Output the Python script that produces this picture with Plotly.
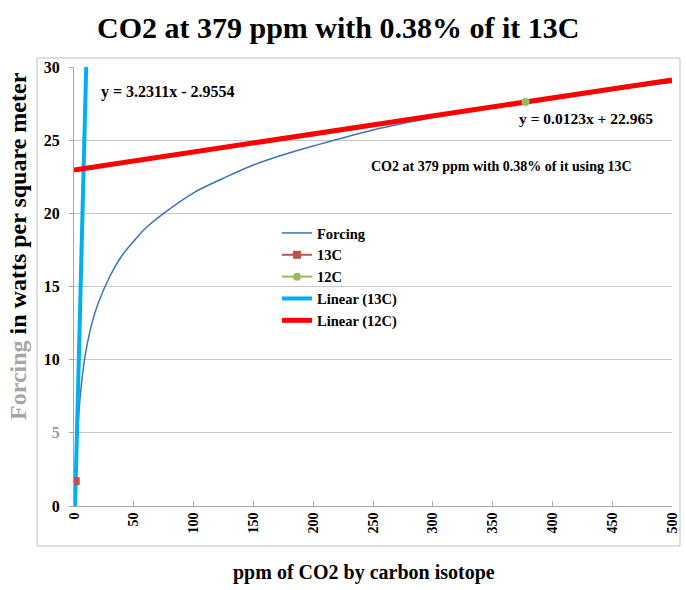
import plotly.graph_objects as go

# ---------------- data ----------------
forcing_ppm = [1, 2, 3, 4, 5, 7, 10, 15, 20, 30, 40, 50, 60, 75, 100, 125, 150, 175, 200, 250, 300, 350, 400, 450, 500]
forcing_wm2 = [0.0, 3.0, 4.9, 6.3, 7.3, 8.9, 10.6, 12.5, 13.8, 15.7, 17.1, 18.1, 19.0, 20.0, 21.4, 22.4, 23.3, 24.0, 24.6, 25.7, 26.55, 27.25, 27.9, 28.45, 28.95]

c13_ppm = [1.44]
c13_force = [1.70]
c12_ppm = [377.56]
c12_force = [27.61]

trend13_slope, trend13_intercept = 3.2311, -2.9554
trend12_slope, trend12_intercept = 0.0123, 22.965

x_ticks = [0, 50, 100, 150, 200, 250, 300, 350, 400, 450, 500]
y_ticks = [0, 5, 10, 15, 20, 25, 30]
y_ticktext = ["0", "<span style='color:#9a9a9a'>5</span>", "10", "15", "20", "25", "30"]

title_text = "CO2 at 379 ppm with 0.38% of it 13C"
x_title = "ppm of CO2 by carbon isotope"
y_title = "<span style='color:#a6a6a6'>Forcing</span> in watts per square meter"
eq13_text = "y = 3.2311x - 2.9554"
eq12_text = "y = 0.0123x + 22.965"
note_text = "CO2 at 379 ppm with 0.38% of it using 13C"

# ---------------- figure ----------------
SERIF = "Liberation Serif"
X_MIN, X_MAX = 0, 500
Y_MIN, Y_MAX = 0, 30

t13_x = [(Y_MIN - trend13_intercept) / trend13_slope, (Y_MAX - trend13_intercept) / trend13_slope]
t13_y = [trend13_slope * v + trend13_intercept for v in t13_x]
t12_x = [X_MIN, X_MAX]
t12_y = [trend12_slope * v + trend12_intercept for v in t12_x]

fig = go.Figure()
fig.add_trace(go.Scatter(x=forcing_ppm, y=forcing_wm2, mode="lines", name="Forcing", legendrank=1,
                         line=dict(color="#3F72B8", width=1.5, shape="spline", smoothing=1.0)))
fig.add_trace(go.Scatter(x=t13_x, y=t13_y, mode="lines", name="Linear (13C)", legendrank=4,
                         line=dict(color="#00B0F0", width=4)))
fig.add_trace(go.Scatter(x=t12_x, y=t12_y, mode="lines", name="Linear (12C)", legendrank=5,
                         line=dict(color="#FF0000", width=5)))
fig.add_trace(go.Scatter(x=c13_ppm, y=c13_force, mode="lines+markers", name="13C", legendrank=2,
                         line=dict(color="#C0504D", width=2),
                         marker=dict(symbol="square", size=8, color="#C0504D")))
fig.add_trace(go.Scatter(x=c12_ppm, y=c12_force, mode="lines+markers", name="12C", legendrank=3,
                         line=dict(color="#9BBB59", width=2),
                         marker=dict(symbol="circle", size=8, color="#9BBB59")))

L, R, T, B, W, H = 74, 14, 67, 84, 686, 590
pw, ph = W - L - R, H - T - B


def px(xp):
    return (xp - L) / pw


def py(yp):
    return (H - B - yp) / ph


def bfont(size):
    return dict(family=SERIF, color="black", weight="bold", size=size)


fig.update_layout(
    width=W, height=H,
    margin=dict(l=L, r=R, t=T, b=B, autoexpand=False),
    paper_bgcolor="white", plot_bgcolor="white",
    font=dict(family=SERIF, color="black", size=14),
    showlegend=True,
    legend=dict(x=px(277), y=py(217), xanchor="left", yanchor="top",
                bgcolor="rgba(0,0,0,0)", font=bfont(14.5),
                itemwidth=30, traceorder="normal"),
    xaxis=dict(range=[X_MIN, X_MAX], tickvals=x_ticks, tickangle=-90,
               ticks="inside", ticklen=5, tickcolor="#A6A6A6",
               showline=True, linecolor="#A6A6A6", linewidth=1,
               showgrid=False, zeroline=False, automargin=False,
               tickfont=bfont(14)),
    yaxis=dict(range=[Y_MIN, Y_MAX], tickvals=y_ticks, ticktext=y_ticktext,
               ticks="outside", ticklen=4, tickcolor="#A6A6A6",
               showline=True, linecolor="#A6A6A6", linewidth=1,
               showgrid=True, gridcolor="#C8C8C8", gridwidth=1, zeroline=False,
               automargin=False,
               tickfont=bfont(16), ticklabelstandoff=6),
)

fig.add_shape(type="rect", xref="paper", yref="paper",
              x0=px(37), x1=px(680), y0=py(546), y1=py(58),
              line=dict(color="#BFBFBF", width=1), layer="below")

fig.add_annotation(text=title_text, xref="paper", yref="paper", x=px(338), y=py(28),
                   xanchor="center", yanchor="middle", showarrow=False, font=bfont(30))
fig.add_annotation(text=x_title, xref="paper", yref="paper", x=px(364), y=py(572),
                   xanchor="center", yanchor="middle", showarrow=False, font=bfont(20))
fig.add_annotation(text=y_title, xref="paper", yref="paper", x=px(18), y=py(246),
                   xanchor="center", yanchor="middle", showarrow=False, textangle=-90,
                   font=bfont(24))
fig.add_annotation(text=eq13_text, xref="paper", yref="paper", x=px(99), y=py(92),
                   xanchor="left", yanchor="middle", showarrow=False, font=bfont(16))
fig.add_annotation(text=eq12_text, xref="paper", yref="paper", x=px(517), y=py(118),
                   xanchor="left", yanchor="middle", showarrow=False, font=bfont(15.5))
fig.add_annotation(text=note_text, xref="paper", yref="paper", x=px(369), y=py(166),
                   xanchor="left", yanchor="middle", showarrow=False, font=bfont(14))

fig.write_html("out.html", config={"displayModeBar": False},
               post_script="document.body.style.margin='0';")
